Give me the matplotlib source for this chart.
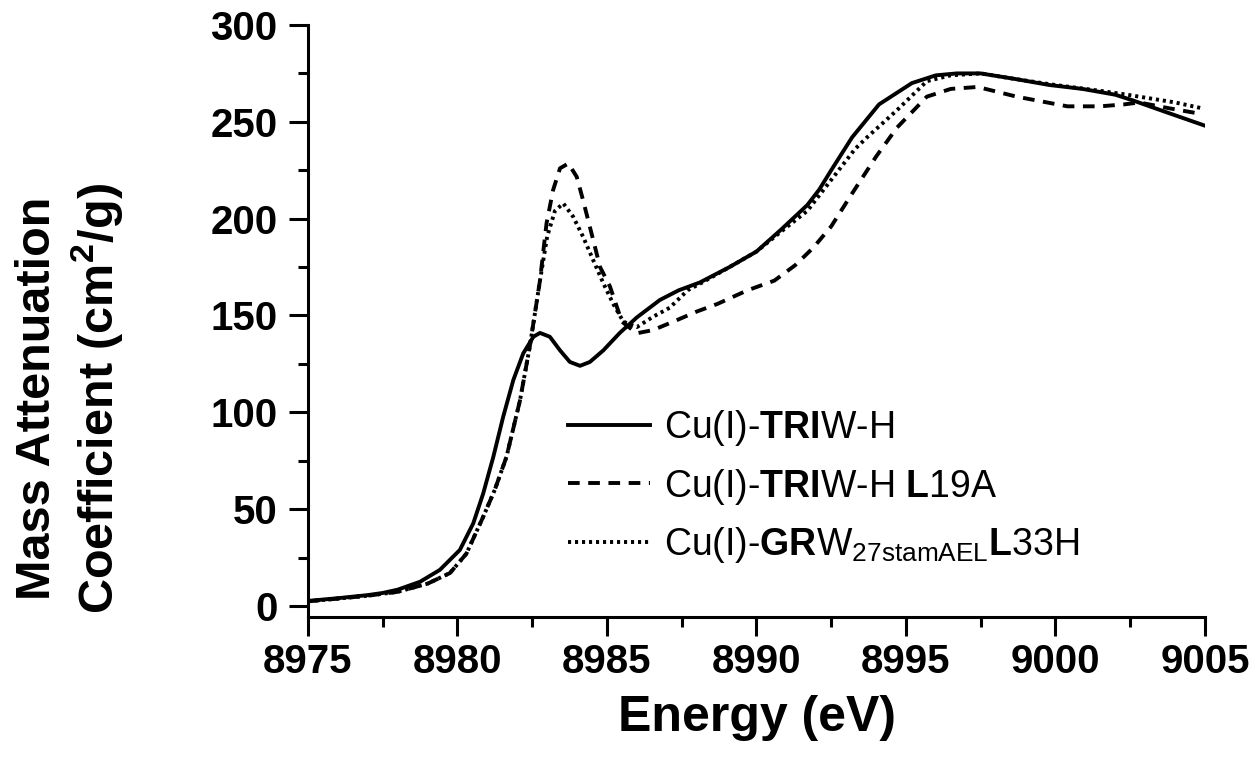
import numpy as np
import matplotlib
matplotlib.use("Agg")
import matplotlib.pyplot as plt
from matplotlib.ticker import MultipleLocator

plt.rcParams['font.family'] = ['Liberation Sans', 'DejaVu Sans']
plt.rcParams['mathtext.fontset'] = 'custom'
plt.rcParams['mathtext.rm'] = 'Liberation Sans'
plt.rcParams['mathtext.bf'] = 'Liberation Sans:bold'
plt.rcParams['mathtext.it'] = 'Liberation Sans:italic'

# Cu(I)-TRIW-H (solid)
E_triw = [8975, 8976, 8977, 8977.5, 8978, 8978.75, 8979.41, 8980.08, 8980.53, 8980.86,
          8981.2, 8981.53, 8981.87, 8982.2, 8982.54, 8982.76, 8983.09, 8983.43, 8983.76, 8984.1,
          8984.43, 8984.88, 8985.43, 8986.0, 8986.77, 8987.4, 8988.1, 8989.1, 8990.0, 8990.8,
          8991.7, 8992.1, 8992.5, 8993.2, 8994.1, 8995.2, 8996.0, 8996.7, 8997.5, 8998.7,
          8999.8, 9000.9, 9002.0, 9002.6, 9003.7, 9005.0]
mu_triw = [2.6, 4.0, 5.6, 6.7, 8.4, 12.5, 18.6, 28.9, 42.7, 58,
           77, 97.7, 116.7, 130.4, 139, 141, 139, 132, 126, 124,
           126, 132, 141, 149, 158, 163, 167, 175, 183, 194,
           207, 215, 225, 242, 259, 270, 274, 275, 275, 272,
           269, 267, 264, 261, 255, 248]

# Cu(I)-TRIW-H L19A (dashed)
E_l19a = [8975, 8976, 8977, 8978, 8979, 8979.75, 8980.3, 8980.86, 8981.25, 8981.64,
          8982.09, 8982.42, 8982.76, 8982.98, 8983.2, 8983.43, 8983.71, 8983.99, 8984.2, 8984.54,
          8984.77, 8985.1, 8985.5, 8986.0, 8986.55, 8987.4, 8988.0, 8988.7, 8989.7, 8990.6,
          8991.3, 8991.9, 8992.5, 8993.2, 8994.0, 8994.7, 8995.7, 8996.5, 8997.4, 8998.7,
          9000.4, 9001.5, 9002.3, 9002.8, 9003.8, 9004.9]
mu_l19a = [2.4, 3.8, 5.3, 7.3, 11.5, 17, 27, 46, 60, 77,
           106, 134, 168, 197.6, 214.8, 226, 228.5, 221.6, 209.6, 189,
           175, 165, 146.8, 140.8, 142.5, 148, 152, 156, 163, 168,
           176, 185, 196, 213, 232, 247, 263, 267, 268, 263,
           258, 258, 259, 260, 257, 254]

# Cu(I)-GRW27stamAEL L33H (dotted)
E_l33h = [8975, 8976, 8977, 8978, 8979, 8979.75, 8980.3, 8980.86, 8981.25, 8981.64,
          8982.09, 8982.42, 8982.76, 8983.0, 8983.26, 8983.54, 8983.87, 8984.2, 8984.54, 8984.88,
          8985.21, 8985.55, 8986.0, 8986.55, 8987.1, 8987.7, 8988.3, 8989.1, 8990.0, 8990.8,
          8991.7, 8992.5, 8993.3, 8993.7, 8994.7, 8995.7, 8996.5, 8997.5, 8998.7, 9000.0,
          9001.5, 9002.4, 9003.2, 9004.0, 9004.9]
mu_l33h = [2.4, 3.8, 5.3, 7.3, 11.5, 17, 27, 46, 60, 77,
           106, 134, 168, 190.7, 204, 207.9, 201, 190.7, 178.6, 166.6,
           156, 146.8, 144, 149.4, 154, 163, 168, 175, 183, 193,
           204, 220, 236, 242, 256, 271, 274, 275, 272, 269,
           266, 264, 262, 260, 257]

labels = [r'Cu(I)-$\mathbf{TRI}$W-H',
          r'Cu(I)-$\mathbf{TRI}$W-H $\mathbf{L}$19A',
          r'Cu(I)-$\mathbf{GR}$W$_{\mathrm{27stamAEL}}$$\mathbf{L}$33H']

fig = plt.figure(figsize=(12.6, 7.81), dpi=100)
ax = fig.add_axes([0.2444, 0.21, 0.7119, 0.758])

lw = 2.8
ax.plot(E_triw, mu_triw, color='black', linewidth=lw, linestyle='-', label=labels[0])
ax.plot(E_l19a, mu_l19a, color='black', linewidth=lw, dashes=(3.0, 2.2), label=labels[1])
ax.plot(E_l33h, mu_l33h, color='black', linewidth=lw, dashes=(0.8, 1.0), label=labels[2])

ax.set_xlim(8975, 9005)
ax.set_ylim(-5.7, 300)
ax.xaxis.set_major_locator(MultipleLocator(5))
ax.xaxis.set_minor_locator(MultipleLocator(2.5))
ax.yaxis.set_major_locator(MultipleLocator(50))
ax.yaxis.set_minor_locator(MultipleLocator(25))

for s in ['top', 'right']:
    ax.spines[s].set_visible(False)
for s in ['left', 'bottom']:
    ax.spines[s].set_linewidth(2.2)

ax.tick_params(which='major', direction='out', length=14, width=2.2, labelsize=29)
ax.tick_params(which='minor', direction='out', length=7, width=2.2)
ax.tick_params(axis='x', pad=5)
ax.tick_params(axis='y', pad=8)
for t in ax.get_xticklabels() + ax.get_yticklabels():
    t.set_fontweight('bold')

fig.text(0.601, 0.081, 'Energy (eV)', fontsize=36, fontweight='bold', ha='center', va='center')
fig.text(0.030, 0.49, 'Mass Attenuation', fontsize=35, fontweight='bold', rotation=90,
         ha='center', va='center')
fig.text(0.077, 0.49, r'Coefficient (cm$^{\mathbf{2}}$/g)', fontsize=35, fontweight='bold',
         rotation=90, ha='center', va='center')

ax.legend(loc='upper left', bbox_to_anchor=(0.269, 0.385), frameon=False, fontsize=27,
          handlelength=2.2, handletextpad=0.35, labelspacing=0.5, borderpad=0)

fig.savefig('out.png', dpi=100)
